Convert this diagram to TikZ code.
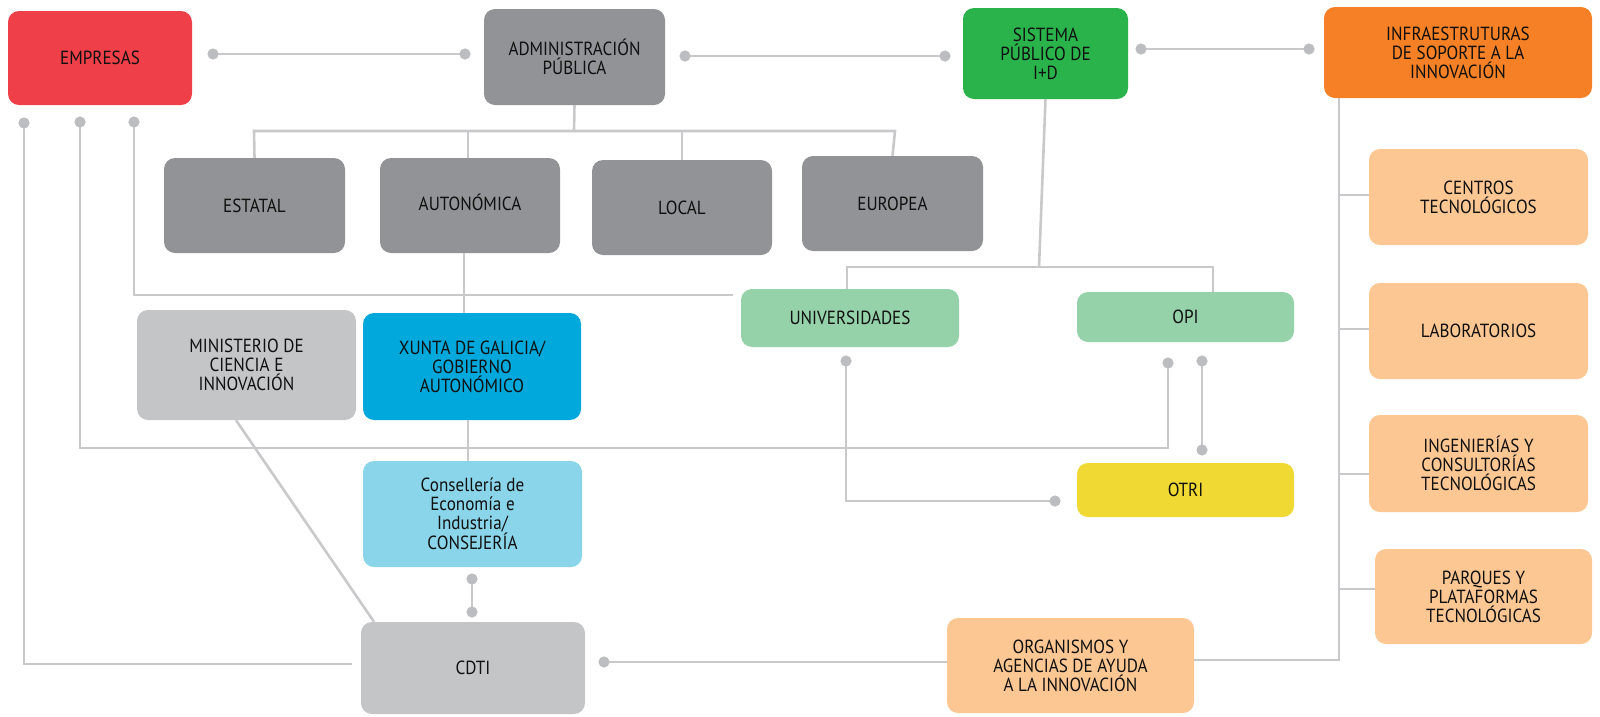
\documentclass[tikz,border=0pt]{standalone}
\usepackage{fontspec}
\setmainfont{PT Sans}[FakeStretch=0.9]
\usetikzlibrary{arrows.meta}
\definecolor{cRed}{HTML}{EF4049}
\definecolor{cGray}{HTML}{929397}
\definecolor{cLGray}{HTML}{C4C5C7}
\definecolor{cGreen}{HTML}{2AB34B}
\definecolor{cLGreen}{HTML}{95D1A9}
\definecolor{cOrange}{HTML}{F58025}
\definecolor{cPeach}{HTML}{FDC793}
\definecolor{cBlue}{HTML}{00A8DC}
\definecolor{cLBlue}{HTML}{8AD5EA}
\definecolor{cYellow}{HTML}{F1D933}
\definecolor{lineC}{HTML}{C9C9CB}
\definecolor{dotC}{HTML}{BCBDC0}
\definecolor{txtC}{HTML}{101010}
\tikzset{
  box/.style={rounded corners=11pt, fill=#1, align=center, inner sep=0pt, text=txtC,
    font=\fontsize{19}{19}\selectfont},
  conn/.style={draw=lineC, line width=2.6pt},
  dotS/.tip={Circle[length=11pt,width=11pt,color=dotC]},
  dd/.style={conn, dotS-dotS, shorten <=-5.5pt, shorten >=-5.5pt},
  ds/.style={conn, dotS-, shorten <=-5.5pt},
  de/.style={conn, -dotS, shorten >=-5.5pt}
}
\begin{document}
\begin{tikzpicture}[x=1pt,y=-1pt]
\useasboundingbox (0,0) rectangle (1600,716);
% nodes
\node[box=cRed, minimum width=184pt, minimum height=94pt] (emp) at (100,58) {EMPRESAS};
\node[box=cGray, minimum width=181pt, minimum height=96pt] (adm) at (574.5,57) {ADMINISTRACIÓN\\PÚBLICA};
\node[box=cGreen, minimum width=165pt, minimum height=91pt] (sis) at (1045.5,53.5) {SISTEMA\\PÚBLICO DE\\I+D};
\node[box=cOrange, minimum width=268pt, minimum height=91pt] (inf) at (1458,52.5) {INFRAESTRUTURAS\\DE SOPORTE A LA\\INNOVACIÓN};
\node[box=cGray, minimum width=181pt, minimum height=95pt] (est) at (254.5,205.5) {ESTATAL};
\node[box=cGray, minimum width=180pt, minimum height=95pt, text depth=6pt] (aut) at (470,205.5) {AUTONÓMICA};
\node[box=cGray, minimum width=180pt, minimum height=95pt] (loc) at (682,207.5) {LOCAL};
\node[box=cGray, minimum width=181pt, minimum height=95pt] (eur) at (892.5,203.5) {EUROPEA};
\node[box=cLGreen, minimum width=218pt, minimum height=58pt] (uni) at (850,318) {UNIVERSIDADES};
\node[box=cLGreen, minimum width=217pt, minimum height=50pt] (opi) at (1185.5,317) {OPI};
\node[box=cLGray, minimum width=219pt, minimum height=110pt] (min) at (246.5,365) {MINISTERIO DE\\CIENCIA E\\INNOVACIÓN};
\node[box=cBlue, minimum width=218pt, minimum height=107pt] (xun) at (472,366.5) {XUNTA DE GALICIA/\\GOBIERNO\\AUTONÓMICO};
\node[box=cLBlue, minimum width=219pt, minimum height=106pt] (con) at (472.5,514) {Consellería de\\Economía e\\Industria/\\CONSEJERÍA};
\node[box=cLGray, minimum width=224pt, minimum height=92pt] (cdt) at (473,668) {CDTI};
\node[box=cYellow, minimum width=217pt, minimum height=54pt] (otr) at (1185.5,490) {OTRI};
\node[box=cPeach, minimum width=219pt, minimum height=96pt] (cen) at (1478.5,197) {CENTROS\\TECNOLÓGICOS};
\node[box=cPeach, minimum width=219pt, minimum height=96pt] (lab) at (1478.5,331) {LABORATORIOS};
\node[box=cPeach, minimum width=219pt, minimum height=97pt] (ing) at (1478.5,463.5) {INGENIERÍAS Y\\CONSULTORÍAS\\TECNOLÓGICAS};
\node[box=cPeach, minimum width=217pt, minimum height=95pt] (par) at (1483.5,596.5) {PARQUES Y\\PLATAFORMAS\\TECNOLÓGICAS};
\node[box=cPeach, minimum width=247pt, minimum height=95pt] (org) at (1070.5,665.5) {ORGANISMOS Y\\AGENCIAS DE AYUDA\\A LA INNOVACIÓN};
% coordinates (dot centres)
\coordinate (a1) at (213,54);  \coordinate (a2) at (465,54);
\coordinate (b1) at (685,56);  \coordinate (b2) at (945,56);
\coordinate (c1) at (1141,49); \coordinate (c2) at (1309,49);
\coordinate (e1) at (24,123);  \coordinate (e2) at (80,122); \coordinate (e3) at (134,122);
\coordinate (ue) at (733,295);
\coordinate (ce) at (352,664);
\coordinate (o1) at (1168,363); \coordinate (o2) at (1202,361); \coordinate (o3) at (1202,450);
\coordinate (u1) at (846,361);  \coordinate (u2) at (1055,501);
\coordinate (k1) at (472,579);  \coordinate (k2) at (472,612);
\coordinate (g1) at (604,662);
% horizontal dotted links
\draw[dd] (a1) -- (a2);
\draw[dd] (b1) -- (b2);
\draw[dd] (c1) -- (c2);
% administracion bracket
\draw[conn] (adm.south) -- (574,131);
\draw[conn] (est.north) -- (254,131) -- (895,131) -- (eur.north);
\draw[conn] (aut.north -| 468,0) -- (468,131);
\draw[conn] (loc.north) -- (682,131);
% autonomica to xunta to conselleria
\draw[conn] (aut.south -| 464,0) -- (xun.north -| 464,0);
\draw[conn] (xun.south -| 468,0) -- (con.north -| 468,0);
\draw[dd] (k1) -- (k2);
% ministerio diagonal
\draw[conn] (min.south -| 236,0) -- (cdt.north west -| 374,0);
% empresas lines
\draw[ds] (e3) -- (134,295) -- (ue);
\draw[ds] (e1) -- (24,664) -- (ce);
\draw[dd] (e2) -- (80,448) -- (1168,448) -- (o1);
% sistema bracket
\draw[conn] (sis.south) -- (1039,267);
\draw[conn] (uni.north -| 847,0) -- (847,267) -- (1213,267) -- (opi.north -| 1213,0);
% opi-otri, univ-otri
\draw[dd] (o2) -- (o3);
\draw[dd] (u1) -- (846,501) -- (u2);
% infraestructuras
\draw[conn] (inf.south -| 1339,0) -- (1339,660) -- (org.east |- 0,660);
\draw[conn] (1339,195) -- (cen.west |- 0,195);
\draw[conn] (1339,329) -- (lab.west |- 0,329);
\draw[conn] (1339,474) -- (ing.west |- 0,474);
\draw[conn] (1339,589) -- (par.west |- 0,589);
% organismos to cdti
\draw[de] (org.west |- 0,662) -- (g1);
\end{tikzpicture}
\end{document}
